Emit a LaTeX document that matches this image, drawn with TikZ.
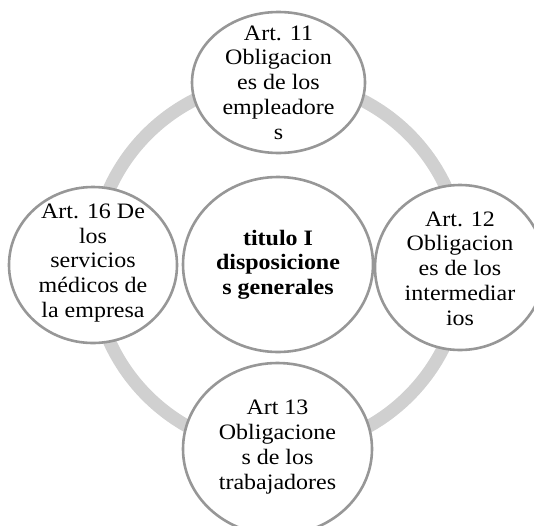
\documentclass[tikz,border=0pt]{standalone}
\usepackage{fontspec}
\setmainfont{Liberation Serif}[FakeStretch=1.09]
\usetikzlibrary{shapes.geometric}
\definecolor{ringgray}{HTML}{D0D0D0}
\definecolor{edgegray}{HTML}{979797}
\begin{document}
\begin{tikzpicture}[x=1pt,y=-1pt,
  bub/.style={ellipse, draw=edgegray, line width=2.6pt, fill=white, inner sep=0pt},
  txt/.style={align=center, inner sep=0pt, font=\fontsize{22}{24.7}\selectfont},
  btxt/.style={txt, font=\fontsize{22}{24.7}\selectfont\bfseries}]
\useasboundingbox (0,0) rectangle (534,525);
\coordinate (c) at (278,265);
\draw[ringgray, line width=13pt] (c) circle[radius=185];
% circles
\node[bub, minimum width=95*2, minimum height=87.5*2] (mid) at (278,264.5) {};
\node[bub, minimum width=86.5*2, minimum height=70.5*2] (top) at (278.5,82.5) {};
\node[bub, minimum width=84*2, minimum height=78*2] (left) at (93,265) {};
\node[bub, minimum width=85*2, minimum height=82.5*2] (right) at (460,267.5) {};
\node[bub, minimum width=94.5*2, minimum height=86*2] (bot) at (277.5,449) {};
% texts
\node[btxt] (midt) at (mid) {titulo I\\disposicione\\s generales};
\node[txt] (topt) at (top) {Art. 11\\Obligacion\\es de los\\empleadore\\s};
\node[txt] (leftt) at ([yshift=2]left) {Art. 16 De\\los\\servicios\\médicos de\\la empresa};
\node[txt] (rightt) at ([yshift=-1]right) {Art. 12\\Obligacion\\es de los\\intermediar\\ios};
\node[txt] (bott) at ([yshift=2]bot) {Art 13\\Obligacione\\s de los\\trabajadores};
\end{tikzpicture}
\end{document}
